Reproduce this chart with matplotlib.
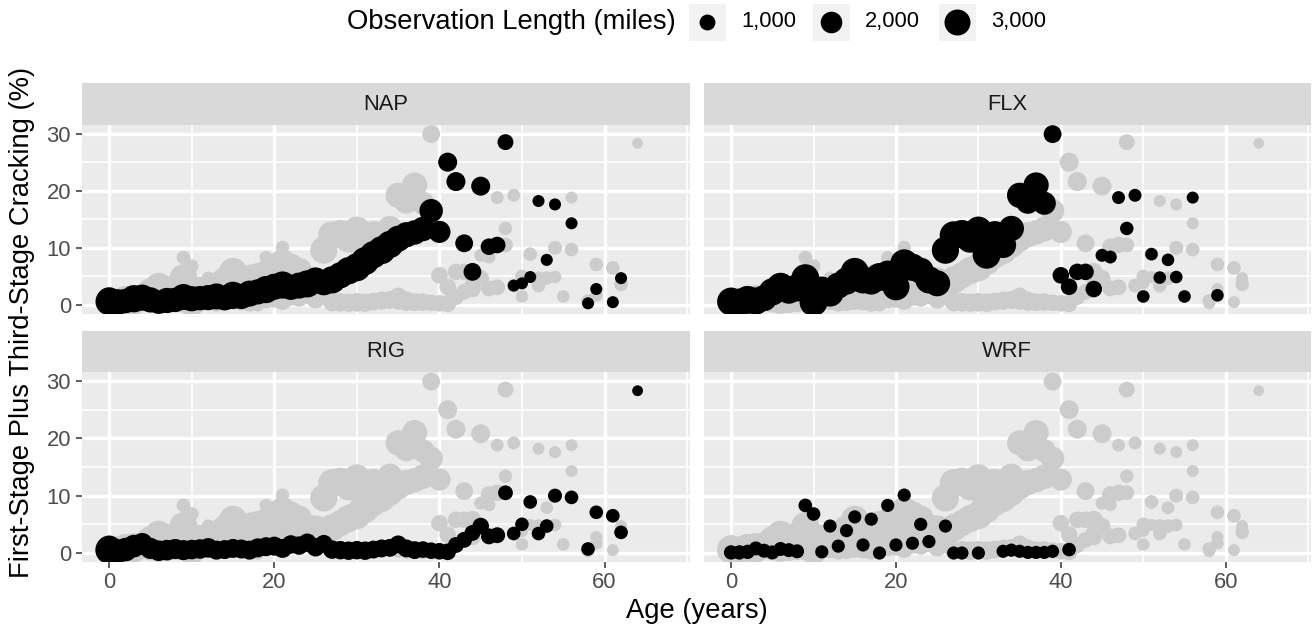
import numpy as np
import matplotlib
matplotlib.use("Agg")
import matplotlib.pyplot as plt
from matplotlib.patches import Rectangle

plt.rcParams['font.family'] = ['Liberation Sans', 'DejaVu Sans']

# age (years), cracking (%), observation length (miles) for each section
nap_age = [0, 0, 1, 2, 3, 4, 5, 6, 7, 8, 9, 10, 11, 12, 13, 14, 15, 16, 17, 18, 19, 20,
           21, 22, 23, 24, 25, 26, 27, 28, 29, 30, 31, 32, 33, 34, 35, 36, 37, 38, 39, 40,
           41, 42, 43, 44, 45, 46, 47, 48, 49, 50, 51, 52, 53, 54, 56, 58, 59, 61, 62]
nap_crack = [0.6, 0.9, 0.5, 0.7, 1.1, 1.3, 0.9, 0.5, 0.8, 0.9, 1.4, 1.1, 1.2, 1.3, 1.5, 1.2,
             1.7, 1.5, 2.0, 2.3, 2.7, 3.2, 3.5, 3.1, 3.4, 3.7, 4.3, 3.9, 4.4, 5.2, 6.0, 6.6,
             7.7, 8.8, 9.6, 10.6, 11.6, 12.3, 12.7, 13.3, 16.5, 12.8, 25.0, 21.6, 10.8, 5.8,
             20.8, 10.2, 10.5, 28.5, 3.4, 3.8, 4.9, 18.2, 7.9, 17.6, 14.3, 0.3, 2.8, 0.5, 4.7]
nap_len = [3300, 2800, 3000, 2600, 3300, 3000, 2800, 2400, 2800, 2600, 3000, 2800, 2600, 2800,
           3000, 2600, 3300, 2800, 3000, 2800, 3300, 3000, 3300, 2800, 3000, 3300, 3000, 2800,
           3300, 3000, 3300, 3500, 3500, 3300, 3500, 3300, 3000, 2800, 2600, 2600, 2400, 2100,
           1500, 1500, 1300, 1300, 1500, 1100, 1100, 1000, 520, 520, 520, 520, 520, 520, 520,
           520, 520, 520, 520]

flx_age = [0, 1, 2, 3, 4, 5, 6, 7, 8, 9, 10, 11, 12, 13, 14, 15, 16, 17, 18, 19, 20, 21, 22,
           23, 24, 25, 26, 27, 28, 29, 30, 31, 32, 33, 34, 35, 36, 37, 38, 39, 40, 41, 42, 43,
           44, 45, 46, 47, 48, 49, 50, 51, 52, 53, 54, 55, 56, 59]
flx_crack = [0.6, 0.5, 0.9, 0.7, 1.2, 2.3, 3.2, 2.5, 3.0, 4.7, 0.5, 2.6, 2.1, 3.4, 4.2, 5.8,
             4.4, 4.1, 4.9, 5.4, 3.2, 7.3, 6.6, 6.0, 4.4, 3.8, 9.6, 12.2, 12.5, 11.6, 13.1,
             8.8, 12.3, 10.5, 13.4, 19.2, 18.1, 21.0, 17.8, 29.9, 5.2, 3.2, 5.8, 5.8, 2.8, 8.7,
             8.4, 18.8, 13.4, 19.2, 1.5, 8.9, 4.8, 7.9, 4.9, 1.5, 18.8, 1.7]
flx_len = [3500, 3300, 3500, 3300, 3000, 3300, 3500, 3000, 3300, 3500, 3500, 3300, 3300, 3000,
           3300, 3500, 3300, 3000, 3500, 3300, 3300, 3500, 3300, 3000, 3300, 3000, 3300, 3500,
           3300, 3500, 3300, 3500, 3300, 3000, 2800, 2800, 2600, 2800, 2300, 1300, 1100, 1100,
           1100, 1100, 1100, 620, 620, 620, 680, 620, 580, 580, 580, 580, 580, 580, 520, 580]

rig_age = [0, 0, 1, 2, 3, 4, 5, 6, 7, 8, 9, 10, 11, 12, 13, 14, 15, 16, 17, 18, 19, 20, 21,
           22, 23, 24, 25, 26, 27, 28, 29, 30, 31, 32, 33, 34, 35, 36, 37, 38, 39, 40, 41, 42,
           43, 44, 45, 46, 47, 48, 49, 50, 51, 52, 53, 54, 56, 58, 59, 61, 62, 64]
rig_crack = [0.5, 0.8, 0.3, 0.6, 1.2, 1.6, 0.8, 0.4, 0.5, 0.7, 0.5, 0.6, 0.7, 0.9, 0.5, 0.6,
             0.8, 0.7, 0.5, 0.9, 1.1, 1.2, 0.8, 1.5, 1.3, 1.8, 1.0, 1.6, 0.6, 0.5, 0.4, 0.5,
             0.4, 0.6, 0.8, 0.9, 1.5, 0.8, 0.5, 0.6, 0.4, 0.3, 0.2, 1.4, 2.3, 3.5, 4.7, 2.9,
             3.1, 10.5, 3.4, 5.0, 8.9, 3.4, 4.7, 10.0, 9.7, 0.7, 7.1, 6.5, 3.6, 28.3]
rig_len = [3400, 2900, 2600, 2400, 2200, 2000, 1900, 1800, 1800, 1700, 1700, 1600, 1600, 1600,
           1500, 1500, 1500, 1500, 1500, 1500, 1500, 1500, 1500, 1400, 1400, 1400, 1400, 1300,
           1400, 1400, 1400, 1400, 1400, 1300, 1300, 1300, 1300, 1300, 1300, 1100, 1100, 1100,
           1100, 1000, 1000, 1000, 1100, 1000, 1000, 850, 700, 700, 700, 700, 700, 750, 700, 700,
           700, 700, 700, 400]

wrf_age = [0, 1, 2, 3, 4, 5, 6, 7, 8, 9, 10, 11, 12, 13, 14, 15, 16, 17, 18, 19, 20, 21, 22,
           23, 24, 26, 27, 28, 30, 33, 34, 35, 36, 37, 38, 39, 41]
wrf_crack = [0.1, 0.1, 0.2, 0.8, 0.4, 0.1, 0.7, 0.5, 0.3, 8.3, 6.8, 0.2, 4.7, 1.2, 3.9, 6.3,
             1.4, 5.9, 0.0, 8.3, 1.4, 10.1, 1.7, 5.0, 2.0, 4.7, 0.0, 0.0, 0.0, 0.3, 0.5, 0.3,
             0.1, 0.1, 0.1, 0.3, 0.6]
wrf_len = [800, 800, 800, 750, 750, 750, 750, 750, 750, 700, 700, 650, 650, 650, 650, 650,
           650, 650, 650, 650, 650, 650, 650, 650, 650, 650, 650, 650, 650, 650, 650, 650,
           650, 650, 650, 650, 700]

sections = ['NAP', 'FLX', 'RIG', 'WRF']
data = {
    'NAP': (nap_age, nap_crack, nap_len),
    'FLX': (flx_age, flx_crack, flx_len),
    'RIG': (rig_age, rig_crack, rig_len),
    'WRF': (wrf_age, wrf_crack, wrf_len),
}
legend_lengths = [1000, 2000, 3000]
legend_labels = ['1,000', '2,000', '3,000']

W, H = 1312, 630


def marker_area(length):
    # circle diameter in px grows with sqrt(length); scatter wants points^2
    d = 2 + 24 * np.sqrt(np.asarray(length, dtype=float) / 3000.0)
    return (d * 72.0 / 100.0) ** 2


def px_rect(x0, y0, x1, y1):
    return [x0 / W, 1 - y1 / H, (x1 - x0) / W, (y1 - y0) / H]


all_age = np.concatenate([data[s][0] for s in sections])
all_crack = np.concatenate([data[s][1] for s in sections])
all_len = np.concatenate([data[s][2] for s in sections])

fig = plt.figure(figsize=(W / 100, H / 100), dpi=100)

cols = [(81.5, 690), (703.5, 1311)]
rows = [(83, 125, 313.6), (330.5, 372.4, 561.6)]
tick_col = '#4D4D4D'

for i, sec in enumerate(sections):
    r, c = divmod(i, 2)
    x0, x1 = cols[c]
    st, y0, y1 = rows[r]
    ax = fig.add_axes(px_rect(x0, y0, x1, y1))
    ax.set_facecolor('#EBEBEB')
    for sp in ax.spines.values():
        sp.set_visible(False)
    ax.set_xlim(-3.35, 70.35)
    ax.set_ylim(-1.5, 31.5)
    ax.set_xticks([0, 20, 40, 60])
    ax.set_xticks([10, 30, 50, 70], minor=True)
    ax.set_yticks([0, 10, 20, 30])
    ax.set_yticks([5, 15, 25], minor=True)
    ax.grid(which='major', color='white', linewidth=2.4)
    ax.grid(which='minor', color='white', linewidth=1.2)
    ax.set_axisbelow(True)
    ax.tick_params(which='minor', length=0)
    ax.tick_params(which='major', length=4.5, width=1.1, color='#333333',
                   labelsize=15.8, labelcolor=tick_col, pad=3)
    if r == 0:
        ax.tick_params(axis='x', which='major', length=0, labelbottom=False)
    if c == 1:
        ax.tick_params(axis='y', which='major', length=0, labelleft=False)

    ax.scatter(all_age, all_crack, s=marker_area(all_len), color='#CCCCCC',
               linewidths=0, zorder=2)
    a, y, l = data[sec]
    ax.scatter(a, y, s=marker_area(l), color='black', linewidths=0, zorder=3)

    sax = fig.add_axes(px_rect(x0, st, x1, y0))
    sax.set_facecolor('#D9D9D9')
    sax.set_xticks([])
    sax.set_yticks([])
    for sp in sax.spines.values():
        sp.set_visible(False)
    sax.text(0.5, 0.5, sec, ha='center', va='center', fontsize=15.8,
             color='#1A1A1A', transform=sax.transAxes)

fig.text(697 / W, 1 - 611 / H, 'Age (years)', ha='center', va='center', fontsize=19.7)
fig.text(22 / W, 1 - 322 / H, 'First-Stage Plus Third-Stage Cracking (%)', ha='center',
         va='center', rotation=90, fontsize=19.7)

# size legend along the top
lax = fig.add_axes([0, 0, 1, 1])
lax.set_xlim(0, W)
lax.set_ylim(H, 0)
lax.axis('off')
lax.patch.set_alpha(0)
lax.text(676, 22, 'Observation Length (miles)', ha='right', va='center', fontsize=19.7)
key_x = [707, 831, 957]
for kx, lv, lab in zip(key_x, legend_lengths, legend_labels):
    lax.add_patch(Rectangle((kx - 18.5, 3.5), 37, 37, facecolor='#F2F2F2', edgecolor='none'))
    lax.scatter([kx], [22], s=marker_area(lv), color='black', linewidths=0)
    lax.text(kx + 34, 22, lab, ha='left', va='center', fontsize=15.8)

fig.savefig('out.png', dpi=100)
